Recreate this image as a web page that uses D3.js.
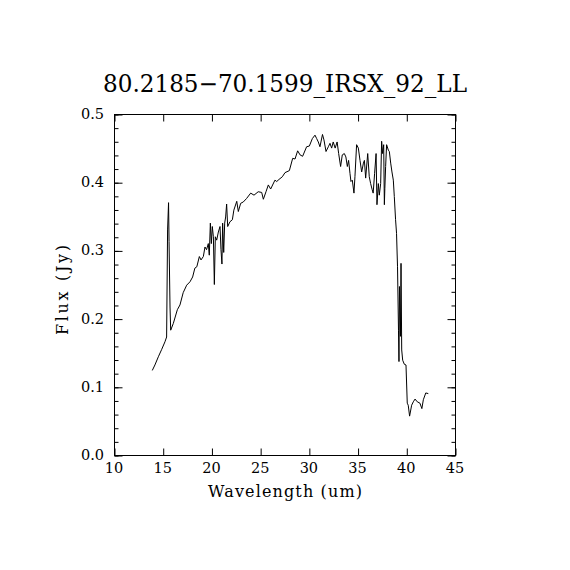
<!DOCTYPE html>
<html><head><meta charset="utf-8">
<script src="https://cdn.jsdelivr.net/npm/d3@7"></script>
<style>body{margin:0;background:#fff}svg{display:block}text{font-family:"DejaVu Serif",serif;fill:#000}</style>
</head><body>
<script>
const wavelength = [13.93,14.2,14.55,14.9,15.23,15.4,15.5,15.6,15.65,15.75,15.82,16.09,16.5,16.77,17.1,17.46,17.8,18.07,18.3,18.5,18.76,18.93,19.17,19.34,19.5,19.68,19.78,19.89,19.99,20.09,20.2,20.3,20.4,20.54,20.71,20.88,20.98,21.08,21.15,21.26,21.36,21.46,21.56,21.67,21.9,22.15,22.3,22.6,22.76,23.0,23.27,23.6,24.03,24.37,24.8,25.16,25.33,25.6,25.84,26.08,26.52,26.7,26.93,27.28,27.55,28.0,28.34,28.58,28.85,29.1,29.36,29.77,30.05,30.36,30.63,30.8,30.97,31.14,31.24,31.4,31.55,31.76,32.0,32.17,32.34,32.5,32.7,32.9,33.06,33.26,33.43,33.64,33.8,33.95,34.08,34.22,34.32,34.46,34.63,34.73,34.9,35.08,35.25,35.42,35.6,35.7,35.83,36.04,36.2,36.34,36.5,36.6,36.75,36.9,36.99,37.13,37.23,37.37,37.47,37.57,37.68,37.75,37.8,37.88,37.98,38.16,38.26,38.4,38.53,38.67,38.77,38.9,39.0,39.1,39.2,39.25,39.3,39.4,39.46,39.53,39.63,39.8,39.97,40.1,40.2,40.34,40.55,40.72,40.9,41.13,41.4,41.6,41.75,42.0,42.26];
const flux = [0.124,0.132,0.144,0.155,0.166,0.173,0.33,0.370,0.313,0.217,0.183,0.193,0.213,0.220,0.238,0.249,0.254,0.261,0.274,0.276,0.291,0.286,0.291,0.305,0.301,0.310,0.293,0.340,0.310,0.335,0.320,0.250,0.320,0.315,0.327,0.335,0.301,0.280,0.340,0.297,0.340,0.349,0.368,0.335,0.342,0.345,0.359,0.372,0.357,0.369,0.371,0.376,0.384,0.381,0.386,0.385,0.375,0.386,0.396,0.390,0.403,0.401,0.404,0.408,0.414,0.417,0.435,0.434,0.446,0.440,0.438,0.452,0.453,0.464,0.469,0.464,0.459,0.452,0.459,0.470,0.462,0.445,0.452,0.457,0.450,0.459,0.450,0.459,0.442,0.423,0.440,0.442,0.437,0.423,0.432,0.413,0.401,0.403,0.384,0.408,0.455,0.450,0.432,0.415,0.428,0.432,0.406,0.442,0.408,0.398,0.389,0.384,0.413,0.442,0.367,0.398,0.381,0.398,0.460,0.442,0.455,0.367,0.391,0.423,0.455,0.447,0.445,0.428,0.415,0.403,0.379,0.345,0.325,0.276,0.183,0.137,0.247,0.174,0.281,0.154,0.139,0.133,0.132,0.076,0.073,0.057,0.073,0.078,0.082,0.078,0.076,0.068,0.081,0.091,0.090];
const xTicks = [10,15,20,25,30,35,40,45];
const yTicks = [0.0,0.1,0.2,0.3,0.4,0.5];
const title = "80.2185\u221270.1599_IRSX_92_LL";
const xLabel = "Wavelength (um)";
const yLabel = "Flux (Jy)";

const W = 570, H = 570;
const L = 114, R = 455, T = 114, B = 455;
const svg = d3.select("body").append("svg").attr("width", W).attr("height", H);
const x = d3.scaleLinear().domain([10,45]).range([L,R]);
const y = d3.scaleLinear().domain([0,0.5]).range([B,T]);

// data line
const line = d3.line().x((d,i)=>x(wavelength[i])).y(d=>y(d));
svg.append("path").datum(flux).attr("d", line).attr("fill","none").attr("stroke","#000").attr("stroke-width",1);

// frame
svg.append("rect").attr("x",L+0.5).attr("y",T+0.5).attr("width",R-L).attr("height",B-T)
  .attr("fill","none").attr("stroke","#000").attr("stroke-width",1);

// x ticks (bottom, top)
const xAxB = d3.axisBottom(x).tickValues(xTicks).tickSize(-7).tickFormat("");
const xAxT = d3.axisTop(x).tickValues(xTicks).tickSize(-7).tickFormat("");
svg.append("g").attr("transform",`translate(0.5,${B+0.5})`).call(xAxB).call(g=>g.select(".domain").remove());
svg.append("g").attr("transform",`translate(0.5,${T+0.5})`).call(xAxT).call(g=>g.select(".domain").remove());
// y ticks
const yMinor = d3.range(0,0.5001,0.02).map(v=>+v.toFixed(2));
const yAxL = d3.axisLeft(y).tickValues(yTicks).tickSize(-8).tickFormat("");
const yAxR = d3.axisRight(y).tickValues(yTicks).tickSize(-8).tickFormat("");
const yAxLm = d3.axisLeft(y).tickValues(yMinor).tickSize(-4).tickFormat("");
const yAxRm = d3.axisRight(y).tickValues(yMinor).tickSize(-4).tickFormat("");
[[yAxL,L],[yAxR,R],[yAxLm,L],[yAxRm,R]].forEach(([ax,px])=>{
  svg.append("g").attr("transform",`translate(${px+0.5},0.5)`).call(ax).call(g=>g.select(".domain").remove());
});
svg.selectAll(".tick line").attr("stroke","#000").attr("stroke-width",1);

// tick labels
svg.append("g").selectAll("text").data(xTicks).join("text")
  .attr("x",d=>x(d)).attr("y",473).attr("text-anchor","middle").attr("font-size",14.5)
  .text(d=>d);
svg.append("g").selectAll("text").data(yTicks).join("text")
  .attr("x",104).attr("y",d=>y(d)+5).attr("text-anchor","end").attr("font-size",14.5)
  .text(d=>d.toFixed(1));

// title and labels
svg.append("text").attr("x",285).attr("y",92).attr("text-anchor","middle").attr("font-size",24)
  .attr("textLength",364).attr("lengthAdjust","spacingAndGlyphs").text(title);
svg.append("text").attr("x",285).attr("y",497).attr("text-anchor","middle").attr("font-size",16)
  .attr("textLength",154).attr("lengthAdjust","spacing").text(xLabel);
svg.append("text").attr("transform","translate(68,290) rotate(-90)").attr("text-anchor","middle").attr("font-size",16)
  .attr("textLength",90).attr("lengthAdjust","spacing").text(yLabel);
</script>
</body></html>
